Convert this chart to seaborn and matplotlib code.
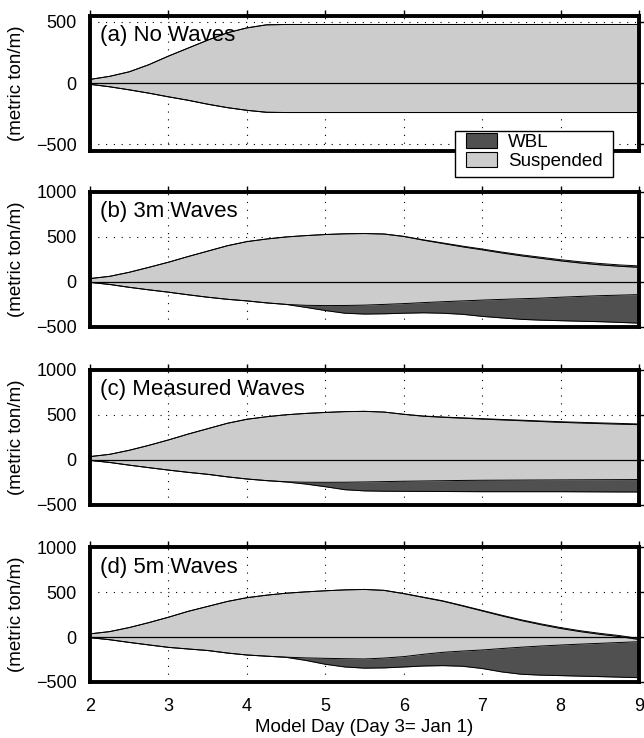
import matplotlib
matplotlib.use("Agg")
import matplotlib.pyplot as plt
import seaborn as sns
from matplotlib.patches import Patch, Rectangle

# ---------------- data ----------------
days = [2.0, 2.25, 2.5, 2.75, 3.0, 3.25, 3.5, 3.75, 4.0, 4.25, 4.5, 4.75, 5.0, 5.25,
        5.5, 5.75, 6.0, 6.25, 6.5, 6.75, 7.0, 7.25, 7.5, 7.75, 8.0, 8.25, 8.5, 8.75, 9.0]

titles = ["(a) No Waves", "(b) 3m Waves", "(c) Measured Waves", "(d) 5m Waves"]

# (a) No Waves
a_susp_pos = [30, 55, 92, 150, 220, 285, 350, 410, 450, 475, 478, 478, 478, 478, 478,
              478, 478, 478, 478, 478, 478, 478, 478, 478, 478, 478, 478, 478, 478]
a_wbl_pos = [0, 0, 0, 0, 0, 0, 0, 0, 0, 0, 0, 0, 0, 0, 0,
             0, 0, 0, 0, 0, 0, 0, 0, 0, 0, 0, 0, 0, 0]
a_susp_neg = [-10, -30, -55, -82, -112, -140, -172, -200, -222, -238, -240, -240, -240, -240, -240,
              -240, -240, -240, -240, -240, -240, -240, -240, -240, -240, -240, -240, -240, -240]
a_wbl_neg = [0, 0, 0, 0, 0, 0, 0, 0, 0, 0, 0, 0, 0, 0, 0,
             0, 0, 0, 0, 0, 0, 0, 0, 0, 0, 0, 0, 0, 0]

# (b) 3m Waves
b_susp_pos = [35, 60, 105, 160, 217, 280, 340, 400, 446, 475, 498, 513, 525, 533, 536,
              530, 503, 462, 425, 388, 355, 320, 288, 260, 232, 208, 188, 172, 160]
b_wbl_pos = [0, 0, 0, 0, 0, 0, 0, 0, 0, 0, 0, 0, 0, 0, 0,
             1, 2, 4, 6, 8, 9, 10, 11, 12, 13, 14, 15, 15, 16]
b_susp_neg = [-7, -30, -62, -90, -116, -145, -172, -195, -213, -235, -252, -262, -265, -264, -260,
              -252, -243, -232, -222, -213, -204, -196, -189, -182, -172, -163, -155, -149, -143]
b_wbl_neg = [0, 0, 0, 0, 0, 0, 0, 0, 0, 0, 0, -23, -55, -86, -99,
             -104, -107, -113, -128, -149, -181, -206, -229, -245, -261, -276, -289, -303, -317]

# (c) Measured Waves
c_susp_pos = [35, 60, 105, 160, 220, 285, 345, 405, 450, 478, 500, 515, 526, 535, 538,
              530, 505, 484, 472, 462, 452, 443, 434, 425, 416, 409, 402, 396, 390]
c_wbl_pos = [0, 0, 0, 0, 0, 0, 0, 0, 0, 0, 0, 0, 0, 0, 0,
             0, 1, 2, 3, 4, 5, 5, 6, 6, 7, 7, 8, 8, 8]
c_susp_neg = [-7, -30, -60, -88, -115, -140, -162, -190, -214, -232, -245, -250, -251, -250, -247,
              -243, -239, -236, -233, -230, -228, -227, -226, -225, -224, -223, -222, -221, -220]
c_wbl_neg = [0, 0, 0, 0, 0, 0, 0, 0, 0, 0, -2, -20, -49, -83, -99,
             -107, -112, -116, -120, -124, -127, -128, -129, -130, -131, -133, -135, -137, -138]

# (d) 5m Waves
d_susp_pos = [35, 60, 105, 160, 220, 285, 340, 395, 437, 465, 487, 502, 514, 524, 529,
              518, 482, 440, 398, 345, 290, 235, 183, 137, 95, 60, 30, 5, -28]
d_wbl_pos = [0, 0, 0, 0, 0, 0, 0, 0, 0, 0, 0, 0, 0, 0, 0,
             1, 2, 3, 4, 5, 6, 7, 8, 9, 10, 10, 11, 11, 12]
d_susp_neg = [-7, -30, -60, -88, -115, -133, -150, -178, -200, -213, -224, -232, -237, -241, -244,
              -234, -218, -192, -170, -156, -144, -128, -113, -100, -89, -79, -70, -61, -52]
d_wbl_neg = [0, 0, 0, 0, 0, 0, 0, 0, 0, 0, -2, -28, -66, -92, -102,
             -109, -115, -130, -148, -169, -206, -260, -301, -324, -340, -356, -370, -385, -400]

panels = [
    (a_susp_pos, a_wbl_pos, a_susp_neg, a_wbl_neg),
    (b_susp_pos, b_wbl_pos, b_susp_neg, b_wbl_neg),
    (c_susp_pos, c_wbl_pos, c_susp_neg, c_wbl_neg),
    (d_susp_pos, d_wbl_pos, d_susp_neg, d_wbl_neg),
]

xticks = [2, 3, 4, 5, 6, 7, 8, 9]
yticks_a = [-500, 0, 500]
yticks_bcd = [-500, 0, 500, 1000]

# ---------------- style ----------------
sns.set_style("white")
plt.rcParams["font.family"] = ["Liberation Sans", "DejaVu Sans"]
plt.rcParams["axes.unicode_minus"] = True
plt.rcParams["text.color"] = "black"
plt.rcParams["axes.labelcolor"] = "black"
plt.rcParams["xtick.color"] = "black"
plt.rcParams["ytick.color"] = "black"

LIGHT = "#cccccc"
DARK = "#505050"

fig = plt.figure(figsize=(6.44, 7.38), dpi=100)

left, width, height = 0.1398, 0.8525, 0.1828
bottoms = [0.7960, 0.5573, 0.3161, 0.0759]

for i, (sp, wp, sn, wn) in enumerate(panels):
    ax = fig.add_axes([left, bottoms[i], width, height])
    top_total = [s + w for s, w in zip(sp, wp)]
    bot_total = [s + w for s, w in zip(sn, wn)]

    ax.set_axisbelow(True)
    ax.grid(True, linestyle=(0, (1, 6)), color="black", linewidth=0.8)

    ax.fill_between(days, sn, sp, color=LIGHT, linewidth=0, zorder=2)
    ax.fill_between(days, bot_total, sn, color=DARK, linewidth=0, zorder=2)
    ax.fill_between(days, sp, top_total, color=DARK, linewidth=0, zorder=2)

    for series in (top_total, sp, sn, bot_total):
        sns.lineplot(x=days, y=series, ax=ax, color="black", linewidth=0.7,
                     legend=False, zorder=3)
    ax.axhline(0, color="black", linewidth=0.9, zorder=4)

    ax.set_xlim(2, 9)
    ax.set_xticks(xticks)
    if i == 0:
        ax.set_ylim(-550, 550)
        ax.set_yticks(yticks_a)
    else:
        ax.set_ylim(-500, 1000)
        ax.set_yticks(yticks_bcd)

    for s in ax.spines.values():
        s.set_linewidth(2.8)
        s.set_color("black")
        s.set_zorder(5)

    ax.tick_params(direction="out", length=4.5, width=1.0, top=True, right=True,
                   labelsize=13, colors="black")
    ax.tick_params(axis="y", pad=5)
    ax.tick_params(axis="x", pad=7)
    if i < 3:
        ax.set_xticklabels([])
    else:
        ax.set_xlabel("Model Day (Day 3= Jan 1)", fontsize=13.5, labelpad=3, color="black")

    ax.set_ylabel("(metric ton/m)", fontsize=13.5, color="black")
    ax.yaxis.set_label_coords(-0.118, 0.5)

    ax.text(0.018, 0.93, titles[i], transform=ax.transAxes, fontsize=16,
            ha="left", va="top", zorder=6, color="black")

# legend box
rect = Rectangle((0.7065, 0.7606), 0.2453, 0.0623, transform=fig.transFigure,
                 facecolor="white", edgecolor="black", linewidth=1.0, zorder=4)
fig.patches.append(rect)

handles = [Patch(facecolor=DARK, edgecolor="black", linewidth=0.8, label="WBL"),
           Patch(facecolor=LIGHT, edgecolor="black", linewidth=0.8, label="Suspended")]
leg = fig.legend(handles=handles, loc="upper left", bbox_to_anchor=(0.7231, 0.8201),
                 frameon=False, fontsize=13.5, handlelength=1.65, handleheight=0.89,
                 handletextpad=0.6, borderpad=0, borderaxespad=0, labelspacing=0.05)
leg.set_zorder(5)
for t in leg.get_texts():
    t.set_color("black")

fig.savefig("out.png", dpi=100)
